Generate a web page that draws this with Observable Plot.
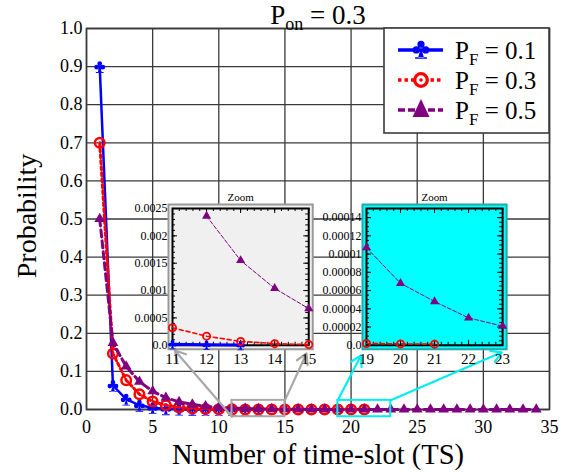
<!DOCTYPE html>
<html><head><meta charset="utf-8">
<script src="https://cdn.jsdelivr.net/npm/d3@7"></script>
<script src="https://cdn.jsdelivr.net/npm/@observablehq/plot@0.6"></script>
<style>
html,body{margin:0;padding:0;background:#fff;}
#chart{position:relative;width:568px;height:472px;font-family:"Liberation Serif","Times New Roman",Times,serif;}
#chart svg{position:absolute;left:0;top:0;}
</style></head><body><div id="chart"></div>
<script>
// ---------- data ----------
const slotsF01 = [1,2,3,4,5,6,7,8,9,10,11,12,13];
const probF01  = [0.9,0.063,0.027,0.011,0.0045,0.0018,0.0007,0.0003,0.00012,0.00005,0.00002,0.000008,0.000003];
const slotsF03 = [1,2,3,4,5,6,7,8,9,10,11,12,13,14,15,16,17,18,19,20,21];
const probF03  = [0.7,0.147,0.077,0.040,0.021,0.011,0.0056,0.0029,0.0015,0.00075,0.00032,0.000166,0.00007,0.00003,0.000012,0.000008,0.000005,0.000003,0.000002,0.0000015,0.0000012];
const slotsF05 = [1,2,3,4,5,6,7,8,9,10,11,12,13,14,15,16,17,18,19,20,21,22,23,24,25,26,27,28,29,30,31,32,33,34];
const probF05  = [0.5,0.175,0.113,0.073,0.048,0.031,0.020,0.0135,0.0088,0.0057,0.0036,0.00236,0.00155,0.00104,0.00067,0.00043,0.00027,0.00017,0.000107,0.000068,0.000048,0.000030,0.000021,0.000014,0.000009,0.000006,0.000004,0.0000027,0.0000018,0.0000012,0.0000008,0.0000005,0.0000003,0.0000002];
const seriesLabels = ["0.1","0.3","0.5"];
const titleValue = "0.3";
const xTicks = [0,5,10,15,20,25,30,35];
const yTicks = [0,0.1,0.2,0.3,0.4,0.5,0.6,0.7,0.8,0.9,1.0];
const zoomA_xTicks = [11,12,13,14,15];
const zoomA_yTicks = [0,0.0005,0.001,0.0015,0.002,0.0025];
const zoomB_xTicks = [19,20,21,22,23];
const zoomB_yTicks = [0,0.00002,0.00004,0.00006,0.00008,0.0001,0.00012,0.00014];

// ---------- helpers ----------
const rows = (xs, ps) => xs.map((x, i) => ({slot: x, p: ps[i]}));
const F01 = rows(slotsF01, probF01), F03 = rows(slotsF03, probF03), F05 = rows(slotsF05, probF05);
const BLUE = "#0000ff", RED = "#ff0000", PURPLE = "#800080", GRID = "#3a3a3a";
const FONT = "'Liberation Serif','Times New Roman',Times,serif";

// club-shaped symbol (three leaves, stem and base bar)
const clubSymbol = {
  draw(ctx, size) {
    const s = Math.sqrt(size / Math.PI), lr = 0.38 * s;
    const leaves = [[0, -0.5 * s], [-0.5 * s, 0.1 * s], [0.5 * s, 0.1 * s]];
    for (const [cx, cy] of leaves) { ctx.moveTo(cx + lr, cy); ctx.arc(cx, cy, lr, 0, 2 * Math.PI); }
    ctx.moveTo(0, -0.1 * s); ctx.lineTo(0.32 * s, 0.92 * s); ctx.lineTo(-0.32 * s, 0.92 * s); ctx.closePath();
    ctx.moveTo(-0.62 * s, 0.88 * s); ctx.lineTo(-0.62 * s, 1.02 * s); ctx.lineTo(0.62 * s, 1.02 * s); ctx.lineTo(0.62 * s, 0.88 * s); ctx.closePath();
  }
};

const zoomA = {x: [11, 15], y: [0, 0.0025], band: [-0.019, 0.024], place: {x1: 6.48, x2: 16.78, y1: 0.168, y2: 0.527}, bg: "#f0f0f0", border: "#999999", link: "#a8a8a8"};
const zoomB = {x: [19, 23], y: [0, 0.00015], band: [-0.019, 0.024], place: {x1: 21.13, x2: 31.42, y1: 0.168, y2: 0.527}, bg: "#00ffff", border: "#22aaaa", link: "#00eeee"};

const links = [
  {x1: zoomA.x[0], y1: zoomA.band[0], x2: zoomA.place.x1 + 0.2, y2: zoomA.place.y1 - 0.013, c: zoomA.link},
  {x1: zoomA.x[1], y1: zoomA.band[1], x2: zoomA.place.x2 - 0.15, y2: zoomA.place.y1 - 0.021, c: zoomA.link},
  {x1: zoomB.x[0], y1: zoomB.band[1], x2: zoomB.place.x1 - 0.38, y2: zoomB.place.y1 - 0.026, c: zoomB.link},
  {x1: zoomB.x[1], y1: zoomB.band[1], x2: zoomB.place.x2 - 0.02, y2: zoomB.place.y1 - 0.018, c: zoomB.link}
];

// ---------- main chart ----------
const main = Plot.plot({
  width: 568, height: 472,
  marginTop: 28, marginLeft: 86, marginRight: 19, marginBottom: 63,
  style: {fontFamily: FONT, fontSize: "18px", background: "#fff", color: "#000", overflow: "visible"},
  x: {domain: [0, 35], ticks: xTicks, tickSize: 0, tickPadding: 11, label: null},
  y: {domain: [0, 1], ticks: yTicks, tickSize: 0, tickPadding: 4, tickFormat: d3.format(".1f"), label: null},
  marks: [
    Plot.gridX(xTicks, {stroke: GRID, strokeOpacity: 1, strokeWidth: 1.3}),
    Plot.gridY(yTicks, {stroke: GRID, strokeOpacity: 1, strokeWidth: 1.3}),
    Plot.frame({stroke: GRID, strokeWidth: 1.6}),
    Plot.line(F01, {x: "slot", y: "p", stroke: BLUE, strokeWidth: 2.5}),
    Plot.dot(F01, {x: "slot", y: "p", symbol: clubSymbol, r: 6.2, fill: BLUE, stroke: "none"}),
    Plot.line(F03, {x: "slot", y: "p", stroke: RED, strokeWidth: 3, strokeDasharray: "3,3"}),
    Plot.dot(F03, {x: "slot", y: "p", r: 4.8, stroke: RED, strokeWidth: 2.5, fill: "none"}),
    Plot.line(F05, {x: "slot", y: "p", stroke: PURPLE, strokeWidth: 3, strokeDasharray: "7,4"}),
    Plot.dot(F05, {x: "slot", y: "p", symbol: "triangle", r: 4, fill: PURPLE, stroke: "none"}),
    Plot.rect([zoomA, zoomB], {x1: d => d.x[0], x2: d => d.x[1], y1: d => d.band[0], y2: d => d.band[1], fill: "none", stroke: d => d.link, strokeWidth: 2}),
    Plot.arrow(links, {x1: "x1", y1: "y1", x2: "x2", y2: "y2", stroke: d => d.c, strokeWidth: 2.2, headLength: 8, inset: 0})
  ]
});
document.getElementById("chart").appendChild(main);

// titles and legend (decoration)
const svg = d3.select(main);
const t = svg.append("text").attr("x", 318).attr("y", 24).attr("text-anchor", "middle")
  .style("font-family", FONT).attr("font-size", 27).attr("fill", "#000");
t.append("tspan").text("P");
t.append("tspan").attr("font-size", 18).attr("dy", 6).text("on");
t.append("tspan").attr("dy", -6).text(" = " + titleValue);

svg.append("text").attr("x", 318).attr("y", 464).attr("text-anchor", "middle")
  .style("font-family", FONT).attr("font-size", 28.5).attr("fill", "#000").text("Number of time-slot (TS)");
svg.append("text").attr("transform", "translate(36,216) rotate(-90)").attr("text-anchor", "middle")
  .style("font-family", FONT).attr("font-size", 28).attr("fill", "#000").text("Probability");

const lg = svg.append("g");
lg.append("rect").attr("x", 384).attr("y", 28).attr("width", 165).attr("height", 105)
  .attr("fill", "#fff").attr("stroke", GRID).attr("stroke-width", 1.6);
const legendStyles = [
  {c: BLUE, dash: null, w: 3.5},
  {c: RED, dash: "3.5,3", w: 3.5},
  {c: PURPLE, dash: "7,3", w: 3.5}
];
legendStyles.forEach((s, i) => {
  const y = 50 + 30 * i;
  const g = lg.append("g");
  g.append("line").attr("x1", 398).attr("x2", 443).attr("y1", y).attr("y2", y)
    .attr("stroke", s.c).attr("stroke-width", s.w).attr("stroke-dasharray", s.dash);
  if (i === 0) {
    const p = d3.path();
    clubSymbol.draw(p, Math.PI * 9.5 * 9.5);
    g.append("path").attr("transform", `translate(421,${y - 1})`).attr("d", p.toString()).attr("fill", BLUE);
  } else if (i === 1) {
    g.append("circle").attr("cx", 421).attr("cy", y).attr("r", 6.3).attr("fill", "#fff").attr("stroke", RED).attr("stroke-width", 3.3);
    g.append("circle").attr("cx", 421).attr("cy", y).attr("r", 1.8).attr("fill", RED);
  } else {
    g.append("path").attr("d", `M421,${y - 11}L412.5,${y + 7}L429.5,${y + 7}Z`).attr("fill", PURPLE);
  }
  const tx = g.append("text").attr("x", 455).attr("y", y + 9).attr("text-anchor", "start")
    .style("font-family", FONT).attr("font-size", 25).attr("fill", "#000");
  tx.append("tspan").text("P");
  tx.append("tspan").attr("font-size", 17).attr("dy", 6).text("F");
  tx.append("tspan").attr("dy", -6).text(" = " + seriesLabels[i]);
});

// ---------- insets ----------
const sx = main.scale("x"), sy = main.scale("y");
function fmtTick(d) { return d === 0 ? "0.0" : String(+d.toPrecision(6)); }
function inset(z, xT, yT, yMinorStep) {
  const left = sx.apply(z.place.x1), right = sx.apply(z.place.x2);
  const top = sy.apply(z.place.y2), bottom = sy.apply(z.place.y1);
  const w = right - left, h = bottom - top;
  const mL = 56, mR = 10, mT = 24, mB = 28;
  const inX = d => d.slot >= z.x[0] && d.slot <= z.x[1] && d.p <= z.y[1];
  const a = F01.filter(inX), b = F03.filter(inX), c = F05.filter(inX);
  const xMinor = d3.range(z.x[0], z.x[1] + 1e-9, 0.2);
  const yMinor = d3.range(0, z.y[1] + 1e-12, yMinorStep);
  const tick = {stroke: "#000", strokeWidth: 1};
  const chart = Plot.plot({
    width: w + mL + mR, height: h + mT + mB,
    marginLeft: mL, marginRight: mR, marginTop: mT, marginBottom: mB,
    style: {fontFamily: FONT, background: "transparent", color: "#000", overflow: "visible"},
    x: {domain: z.x}, y: {domain: z.y},
    marks: [
      Plot.frame({fill: z.bg, stroke: z.border, strokeWidth: 2, inset: -4}),
      Plot.tickY(yMinor, {...tick, insetRight: w - 3}),
      Plot.tickY(yMinor, {...tick, insetLeft: w - 3}),
      Plot.tickY(yT, {...tick, insetRight: w - 5}),
      Plot.tickY(yT, {...tick, insetLeft: w - 5}),
      Plot.tickX(xMinor, {...tick, insetTop: h - 3}),
      Plot.tickX(xMinor, {...tick, insetBottom: h - 3}),
      Plot.tickX(xT, {...tick, insetTop: h - 5}),
      Plot.tickX(xT, {...tick, insetBottom: h - 5}),
      Plot.frame({stroke: "#000", strokeWidth: 2}),
      Plot.axisX(xT, {tickSize: 0, tickPadding: 8, fontSize: 15, label: null}),
      Plot.axisY(yT, {tickSize: 0, tickPadding: 5, fontSize: 12, tickFormat: fmtTick, label: null}),
      Plot.line(a, {x: "slot", y: "p", stroke: BLUE, strokeWidth: 3}),
      Plot.dot(a, {x: "slot", y: "p", symbol: clubSymbol, r: 5, fill: BLUE, stroke: "none"}),
      Plot.line(b, {x: "slot", y: "p", stroke: RED, strokeWidth: 1.6, strokeDasharray: "4,3"}),
      Plot.dot(b, {x: "slot", y: "p", r: 3.6, stroke: RED, strokeWidth: 1.8, fill: "none"}),
      Plot.line(c, {x: "slot", y: "p", stroke: PURPLE, strokeWidth: 1, strokeDasharray: "4,2"}),
      Plot.dot(c, {x: "slot", y: "p", symbol: "triangle", r: 3.4, fill: PURPLE, stroke: "none"}),
      Plot.text(["Zoom"], {frameAnchor: "top", dy: -7, lineAnchor: "bottom", fontSize: 11, fill: "#000"})
    ]
  });
  chart.style.left = (left - mL) + "px";
  chart.style.top = (top - mT) + "px";
  document.getElementById("chart").appendChild(chart);
}
inset(zoomA, zoomA_xTicks, zoomA_yTicks, 0.0001);
inset(zoomB, zoomB_xTicks, zoomB_yTicks, 0.000005);
</script>
</body></html>
